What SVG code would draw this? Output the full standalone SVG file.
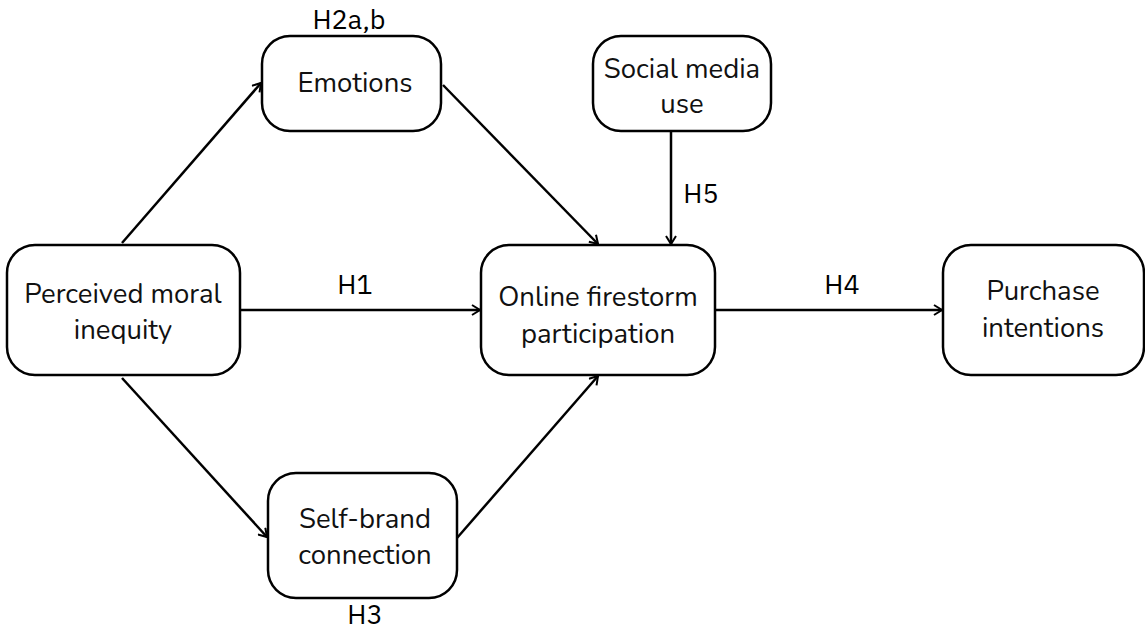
<svg xmlns="http://www.w3.org/2000/svg" width="1145" height="630" viewBox="0 0 1145 630">
<style>
.box{fill:#fff;stroke:#000;stroke-width:2.5}
.t{font-family:"Nunito","Noto Sans","Open Sans",sans-serif;font-size:27.5px;fill:#111;text-anchor:middle;dominant-baseline:central}
.lbl{font-family:"IBM Plex Sans","Noto Sans",sans-serif;font-size:27px;fill:#000;text-anchor:middle;dominant-baseline:central}
.c{stroke:#000;stroke-width:2.5;fill:none;marker-end:url(#ah)}
</style>
<defs>
<marker id="ah" viewBox="0 0 12 12" refX="10" refY="6" markerWidth="12" markerHeight="12" markerUnits="userSpaceOnUse" orient="auto">
<path d="M2,1 L10,6 L2,11" fill="none" stroke="#000" stroke-width="2"/>
</marker>
</defs>
<rect width="1145" height="630" fill="#fff"/>
<g id="connectors">
<line class="c" x1="122" y1="243" x2="261" y2="83"/>
<line class="c" x1="443" y1="85" x2="598" y2="244"/>
<line class="c" x1="671" y1="131" x2="671" y2="244"/>
<line class="c" x1="241" y1="310" x2="480" y2="310"/>
<line class="c" x1="715" y1="310" x2="942" y2="310"/>
<line class="c" x1="122" y1="378" x2="267" y2="537"/>
<line class="c" x1="457" y1="538" x2="598" y2="376"/>
<text class="lbl" x="349" y="18">H2a,b</text>
<text class="lbl" x="355" y="283">H1</text>
<text class="lbl" x="842" y="283">H4</text>
<text class="lbl" x="701" y="192">H5</text>
<text class="lbl" x="365" y="613">H3</text>
</g>
<g id="perceived">
<rect class="box" x="7" y="245" width="233" height="130" rx="28"/>
<text class="t" x="123" y="294">Perceived moral</text>
<text class="t" x="123" y="330">inequity</text>
</g>
<g id="emotions">
<rect class="box" x="262" y="36" width="179" height="95" rx="28"/>
<text class="t" x="355" y="83">Emotions</text>
</g>
<g id="social">
<rect class="box" x="593" y="36" width="178" height="95" rx="28"/>
<text class="t" x="682" y="69">Social media</text>
<text class="t" x="682" y="104">use</text>
</g>
<g id="online">
<rect class="box" x="481" y="245" width="234" height="130" rx="28"/>
<text class="t" x="598" y="297">Online firestorm</text>
<text class="t" x="598" y="334">participation</text>
</g>
<g id="purchase">
<rect class="box" x="943" y="245" width="201" height="130" rx="28"/>
<text class="t" x="1043" y="291">Purchase</text>
<text class="t" x="1043" y="328">intentions</text>
</g>
<g id="selfbrand">
<rect class="box" x="268" y="473" width="189" height="125" rx="28"/>
<text class="t" x="365" y="519">Self-brand</text>
<text class="t" x="365" y="555">connection</text>
</g>
</svg>
